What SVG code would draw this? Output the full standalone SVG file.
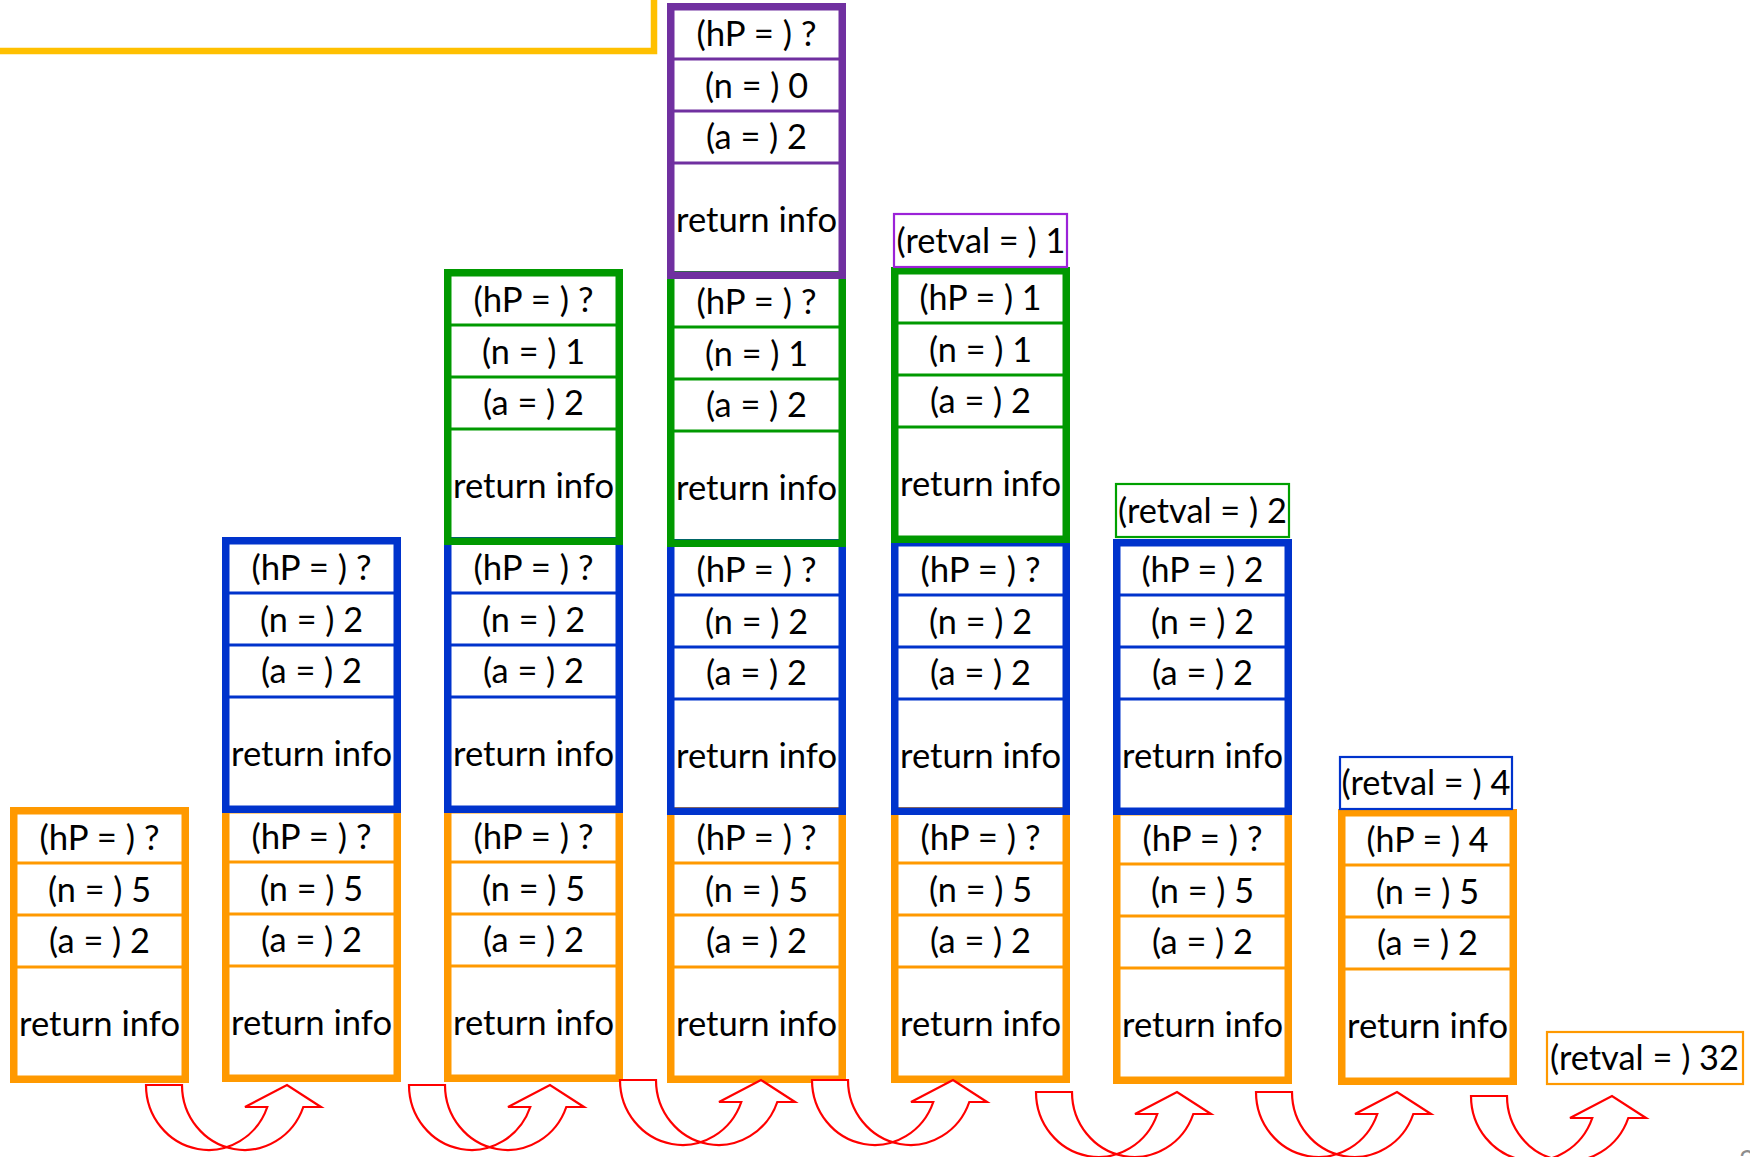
<svg xmlns="http://www.w3.org/2000/svg" width="1750" height="1157" viewBox="0 0 1750 1157">
  <style>
    .fr { fill: none; stroke-width: 7.5; }
    .sep { stroke-width: 3; }
    .or { stroke: #FF9900; }
    .bl { stroke: #0033CC; }
    .gr { stroke: #009900; }
    .pu { stroke: #7030A0; }
    .t { font-family: Lato, "Open Sans", "Liberation Sans", sans-serif; font-size: 34px; fill: #000; text-anchor: middle; }
    .rv { text-anchor: start; }
    .rvb { fill: #fff; stroke-width: 2.2; }
    .arr { fill: #fff; stroke: #FF0000; stroke-width: 2.2; stroke-linejoin: miter; }
  </style>

  <!-- enclosing yellow frame, mostly off the top-left edge -->
  <g id="outer-frame">
    <path d="M-10,51 H654 V-10" fill="none" stroke="#FFC000" stroke-width="6.5"/>
  </g>

  <!-- ===== orange frames: pow(a=2, n=5) ===== -->
  <g id="c1-orange" transform="translate(10,807)">
    <line class="sep or" x1="4" x2="175" y1="56" y2="56"/><line class="sep or" x1="4" x2="175" y1="108" y2="108"/><line class="sep or" x1="4" x2="175" y1="160" y2="160"/>
    <rect class="fr or" x="3.75" y="3.75" width="171.5" height="268.5"/>
    <text class="t" x="89.5" y="43" textLength="120" lengthAdjust="spacingAndGlyphs">(hP = ) ?</text>
    <text class="t" x="89.5" y="95" textLength="103" lengthAdjust="spacingAndGlyphs">(n = ) 5</text>
    <text class="t" x="89.5" y="146" textLength="101" lengthAdjust="spacingAndGlyphs">(a = ) 2</text>
    <text class="t" x="89.5" y="229" textLength="161" lengthAdjust="spacingAndGlyphs">return info</text>
  </g>
  <g id="c2-orange" transform="translate(222,806)">
    <line class="sep or" x1="4" x2="175" y1="56" y2="56"/><line class="sep or" x1="4" x2="175" y1="108" y2="108"/><line class="sep or" x1="4" x2="175" y1="160" y2="160"/>
    <rect class="fr or" x="3.75" y="3.75" width="171.5" height="268.5"/>
    <text class="t" x="89.5" y="43" textLength="120" lengthAdjust="spacingAndGlyphs">(hP = ) ?</text>
    <text class="t" x="89.5" y="95" textLength="103" lengthAdjust="spacingAndGlyphs">(n = ) 5</text>
    <text class="t" x="89.5" y="146" textLength="101" lengthAdjust="spacingAndGlyphs">(a = ) 2</text>
    <text class="t" x="89.5" y="229" textLength="161" lengthAdjust="spacingAndGlyphs">return info</text>
  </g>
  <g id="c3-orange" transform="translate(444,806)">
    <line class="sep or" x1="4" x2="175" y1="56" y2="56"/><line class="sep or" x1="4" x2="175" y1="108" y2="108"/><line class="sep or" x1="4" x2="175" y1="160" y2="160"/>
    <rect class="fr or" x="3.75" y="3.75" width="171.5" height="268.5"/>
    <text class="t" x="89.5" y="43" textLength="120" lengthAdjust="spacingAndGlyphs">(hP = ) ?</text>
    <text class="t" x="89.5" y="95" textLength="103" lengthAdjust="spacingAndGlyphs">(n = ) 5</text>
    <text class="t" x="89.5" y="146" textLength="101" lengthAdjust="spacingAndGlyphs">(a = ) 2</text>
    <text class="t" x="89.5" y="229" textLength="161" lengthAdjust="spacingAndGlyphs">return info</text>
  </g>
  <g id="c4-orange" transform="translate(667,807)">
    <line class="sep or" x1="4" x2="175" y1="56" y2="56"/><line class="sep or" x1="4" x2="175" y1="108" y2="108"/><line class="sep or" x1="4" x2="175" y1="160" y2="160"/>
    <rect class="fr or" x="3.75" y="3.75" width="171.5" height="268.5"/>
    <text class="t" x="89.5" y="43" textLength="120" lengthAdjust="spacingAndGlyphs">(hP = ) ?</text>
    <text class="t" x="89.5" y="95" textLength="103" lengthAdjust="spacingAndGlyphs">(n = ) 5</text>
    <text class="t" x="89.5" y="146" textLength="101" lengthAdjust="spacingAndGlyphs">(a = ) 2</text>
    <text class="t" x="89.5" y="229" textLength="161" lengthAdjust="spacingAndGlyphs">return info</text>
  </g>
  <g id="c5-orange" transform="translate(891,807)">
    <line class="sep or" x1="4" x2="175" y1="56" y2="56"/><line class="sep or" x1="4" x2="175" y1="108" y2="108"/><line class="sep or" x1="4" x2="175" y1="160" y2="160"/>
    <rect class="fr or" x="3.75" y="3.75" width="171.5" height="268.5"/>
    <text class="t" x="89.5" y="43" textLength="120" lengthAdjust="spacingAndGlyphs">(hP = ) ?</text>
    <text class="t" x="89.5" y="95" textLength="103" lengthAdjust="spacingAndGlyphs">(n = ) 5</text>
    <text class="t" x="89.5" y="146" textLength="101" lengthAdjust="spacingAndGlyphs">(a = ) 2</text>
    <text class="t" x="89.5" y="229" textLength="161" lengthAdjust="spacingAndGlyphs">return info</text>
  </g>
  <g id="c6-orange" transform="translate(1113,808)">
    <line class="sep or" x1="4" x2="175" y1="56" y2="56"/><line class="sep or" x1="4" x2="175" y1="108" y2="108"/><line class="sep or" x1="4" x2="175" y1="160" y2="160"/>
    <rect class="fr or" x="3.75" y="3.75" width="171.5" height="268.5"/>
    <text class="t" x="89.5" y="43" textLength="120" lengthAdjust="spacingAndGlyphs">(hP = ) ?</text>
    <text class="t" x="89.5" y="95" textLength="103" lengthAdjust="spacingAndGlyphs">(n = ) 5</text>
    <text class="t" x="89.5" y="146" textLength="101" lengthAdjust="spacingAndGlyphs">(a = ) 2</text>
    <text class="t" x="89.5" y="229" textLength="161" lengthAdjust="spacingAndGlyphs">return info</text>
  </g>
  <g id="c7-orange" transform="translate(1338,809)">
    <line class="sep or" x1="4" x2="175" y1="56" y2="56"/><line class="sep or" x1="4" x2="175" y1="108" y2="108"/><line class="sep or" x1="4" x2="175" y1="160" y2="160"/>
    <rect class="fr or" x="3.75" y="3.75" width="171.5" height="268.5"/>
    <text class="t" x="89.5" y="43" textLength="122" lengthAdjust="spacingAndGlyphs">(hP = ) 4</text>
    <text class="t" x="89.5" y="95" textLength="103" lengthAdjust="spacingAndGlyphs">(n = ) 5</text>
    <text class="t" x="89.5" y="146" textLength="101" lengthAdjust="spacingAndGlyphs">(a = ) 2</text>
    <text class="t" x="89.5" y="229" textLength="161" lengthAdjust="spacingAndGlyphs">return info</text>
  </g>

  <!-- ===== blue frames: n = 2 ===== -->
  <g id="c2-blue" transform="translate(222,537)">
    <line class="sep bl" x1="4" x2="175" y1="56" y2="56"/><line class="sep bl" x1="4" x2="175" y1="108" y2="108"/><line class="sep bl" x1="4" x2="175" y1="160" y2="160"/>
    <rect class="fr bl" x="3.75" y="3.75" width="171.5" height="268.5"/>
    <text class="t" x="89.5" y="43" textLength="120" lengthAdjust="spacingAndGlyphs">(hP = ) ?</text>
    <text class="t" x="89.5" y="95" textLength="103" lengthAdjust="spacingAndGlyphs">(n = ) 2</text>
    <text class="t" x="89.5" y="146" textLength="101" lengthAdjust="spacingAndGlyphs">(a = ) 2</text>
    <text class="t" x="89.5" y="229" textLength="161" lengthAdjust="spacingAndGlyphs">return info</text>
  </g>
  <g id="c3-blue" transform="translate(444,537)">
    <line class="sep bl" x1="4" x2="175" y1="56" y2="56"/><line class="sep bl" x1="4" x2="175" y1="108" y2="108"/><line class="sep bl" x1="4" x2="175" y1="160" y2="160"/>
    <rect class="fr bl" x="3.75" y="3.75" width="171.5" height="268.5"/>
    <text class="t" x="89.5" y="43" textLength="120" lengthAdjust="spacingAndGlyphs">(hP = ) ?</text>
    <text class="t" x="89.5" y="95" textLength="103" lengthAdjust="spacingAndGlyphs">(n = ) 2</text>
    <text class="t" x="89.5" y="146" textLength="101" lengthAdjust="spacingAndGlyphs">(a = ) 2</text>
    <text class="t" x="89.5" y="229" textLength="161" lengthAdjust="spacingAndGlyphs">return info</text>
  </g>
  <g id="c4-blue" transform="translate(667,539)">
    <line class="sep bl" x1="4" x2="175" y1="56" y2="56"/><line class="sep bl" x1="4" x2="175" y1="108" y2="108"/><line class="sep bl" x1="4" x2="175" y1="160" y2="160"/>
    <rect class="fr bl" x="3.75" y="3.75" width="171.5" height="268.5"/>
    <text class="t" x="89.5" y="43" textLength="120" lengthAdjust="spacingAndGlyphs">(hP = ) ?</text>
    <text class="t" x="89.5" y="95" textLength="103" lengthAdjust="spacingAndGlyphs">(n = ) 2</text>
    <text class="t" x="89.5" y="146" textLength="101" lengthAdjust="spacingAndGlyphs">(a = ) 2</text>
    <text class="t" x="89.5" y="229" textLength="161" lengthAdjust="spacingAndGlyphs">return info</text>
  </g>
  <g id="c5-blue" transform="translate(891,539)">
    <line class="sep bl" x1="4" x2="175" y1="56" y2="56"/><line class="sep bl" x1="4" x2="175" y1="108" y2="108"/><line class="sep bl" x1="4" x2="175" y1="160" y2="160"/>
    <rect class="fr bl" x="3.75" y="3.75" width="171.5" height="268.5"/>
    <text class="t" x="89.5" y="43" textLength="120" lengthAdjust="spacingAndGlyphs">(hP = ) ?</text>
    <text class="t" x="89.5" y="95" textLength="103" lengthAdjust="spacingAndGlyphs">(n = ) 2</text>
    <text class="t" x="89.5" y="146" textLength="101" lengthAdjust="spacingAndGlyphs">(a = ) 2</text>
    <text class="t" x="89.5" y="229" textLength="161" lengthAdjust="spacingAndGlyphs">return info</text>
  </g>
  <g id="c6-blue" transform="translate(1113,539)">
    <line class="sep bl" x1="4" x2="175" y1="56" y2="56"/><line class="sep bl" x1="4" x2="175" y1="108" y2="108"/><line class="sep bl" x1="4" x2="175" y1="160" y2="160"/>
    <rect class="fr bl" x="3.75" y="3.75" width="171.5" height="268.5"/>
    <text class="t" x="89.5" y="43" textLength="122" lengthAdjust="spacingAndGlyphs">(hP = ) 2</text>
    <text class="t" x="89.5" y="95" textLength="103" lengthAdjust="spacingAndGlyphs">(n = ) 2</text>
    <text class="t" x="89.5" y="146" textLength="101" lengthAdjust="spacingAndGlyphs">(a = ) 2</text>
    <text class="t" x="89.5" y="229" textLength="161" lengthAdjust="spacingAndGlyphs">return info</text>
  </g>

  <!-- ===== green frames: n = 1 ===== -->
  <g id="c3-green" transform="translate(444,269)">
    <line class="sep gr" x1="4" x2="175" y1="56" y2="56"/><line class="sep gr" x1="4" x2="175" y1="108" y2="108"/><line class="sep gr" x1="4" x2="175" y1="160" y2="160"/>
    <rect class="fr gr" x="3.75" y="3.75" width="171.5" height="268.5"/>
    <text class="t" x="89.5" y="43" textLength="120" lengthAdjust="spacingAndGlyphs">(hP = ) ?</text>
    <text class="t" x="89.5" y="95" textLength="103" lengthAdjust="spacingAndGlyphs">(n = ) 1</text>
    <text class="t" x="89.5" y="146" textLength="101" lengthAdjust="spacingAndGlyphs">(a = ) 2</text>
    <text class="t" x="89.5" y="229" textLength="161" lengthAdjust="spacingAndGlyphs">return info</text>
  </g>
  <g id="c4-green" transform="translate(667,271)">
    <line class="sep gr" x1="4" x2="175" y1="56" y2="56"/><line class="sep gr" x1="4" x2="175" y1="108" y2="108"/><line class="sep gr" x1="4" x2="175" y1="160" y2="160"/>
    <rect class="fr gr" x="3.75" y="3.75" width="171.5" height="268.5"/>
    <text class="t" x="89.5" y="43" textLength="120" lengthAdjust="spacingAndGlyphs">(hP = ) ?</text>
    <text class="t" x="89.5" y="95" textLength="103" lengthAdjust="spacingAndGlyphs">(n = ) 1</text>
    <text class="t" x="89.5" y="146" textLength="101" lengthAdjust="spacingAndGlyphs">(a = ) 2</text>
    <text class="t" x="89.5" y="229" textLength="161" lengthAdjust="spacingAndGlyphs">return info</text>
  </g>
  <g id="c5-green" transform="translate(891,267)">
    <line class="sep gr" x1="4" x2="175" y1="56" y2="56"/><line class="sep gr" x1="4" x2="175" y1="108" y2="108"/><line class="sep gr" x1="4" x2="175" y1="160" y2="160"/>
    <rect class="fr gr" x="3.75" y="3.75" width="171.5" height="268.5"/>
    <text class="t" x="89.5" y="43" textLength="122" lengthAdjust="spacingAndGlyphs">(hP = ) 1</text>
    <text class="t" x="89.5" y="95" textLength="103" lengthAdjust="spacingAndGlyphs">(n = ) 1</text>
    <text class="t" x="89.5" y="146" textLength="101" lengthAdjust="spacingAndGlyphs">(a = ) 2</text>
    <text class="t" x="89.5" y="229" textLength="161" lengthAdjust="spacingAndGlyphs">return info</text>
  </g>

  <!-- ===== purple frame: n = 0 ===== -->
  <g id="c4-purple" transform="translate(667,3)">
    <line class="sep pu" x1="4" x2="175" y1="56" y2="56"/><line class="sep pu" x1="4" x2="175" y1="108" y2="108"/><line class="sep pu" x1="4" x2="175" y1="160" y2="160"/>
    <rect class="fr pu" x="3.75" y="3.75" width="171.5" height="268.5"/>
    <text class="t" x="89.5" y="43" textLength="120" lengthAdjust="spacingAndGlyphs">(hP = ) ?</text>
    <text class="t" x="89.5" y="95" textLength="103" lengthAdjust="spacingAndGlyphs">(n = ) 0</text>
    <text class="t" x="89.5" y="146" textLength="101" lengthAdjust="spacingAndGlyphs">(a = ) 2</text>
    <text class="t" x="89.5" y="229" textLength="161" lengthAdjust="spacingAndGlyphs">return info</text>
  </g>

  <!-- ===== return values ===== -->
  <g id="retval-1">
    <rect class="rvb" x="894" y="214" width="173" height="53" stroke="#9B22D8"/>
    <text class="t rv" x="896.5" y="253" textLength="169" lengthAdjust="spacingAndGlyphs">(retval = ) 1</text>
  </g>
  <g id="retval-2">
    <rect class="rvb" x="1116" y="484" width="173" height="53" stroke="#00A000"/>
    <text class="t rv" x="1118" y="523" textLength="169" lengthAdjust="spacingAndGlyphs">(retval = ) 2</text>
  </g>
  <g id="retval-4">
    <rect class="rvb" x="1340" y="757" width="172" height="52" stroke="#0033CC"/>
    <text class="t rv" x="1341.5" y="795" textLength="169" lengthAdjust="spacingAndGlyphs">(retval = ) 4</text>
  </g>
  <g id="retval-32">
    <rect class="rvb" x="1547" y="1032" width="196" height="52" stroke="#FF9900"/>
    <text class="t rv" x="1550" y="1070" textLength="189" lengthAdjust="spacingAndGlyphs">(retval = ) 32</text>
  </g>

  <!-- ===== step arrows between frames ===== -->
  <g id="connectors">
    <path class="arr" d="M146,1085 L182,1085 A62.5,65 0 0 0 303.3,1107 L321,1107 L287,1085 L245,1107 L267.3,1107 A62.5,65 0 0 1 146,1085 Z"/>
    <path class="arr" d="M409,1085 L445,1085 A62.5,65 0 0 0 566.3,1107 L584,1107 L550,1085 L508,1107 L530.3,1107 A62.5,65 0 0 1 409,1085 Z"/>
    <path class="arr" d="M620,1080 L656,1080 A62.5,65 0 0 0 777.3,1102 L795,1102 L761,1080 L719,1102 L741.3,1102 A62.5,65 0 0 1 620,1080 Z"/>
    <path class="arr" d="M812,1080 L848,1080 A62.5,65 0 0 0 969.3,1102 L987,1102 L953,1080 L911,1102 L933.3,1102 A62.5,65 0 0 1 812,1080 Z"/>
    <path class="arr" d="M1036,1092 L1072,1092 A62.5,65 0 0 0 1193.3,1114 L1211,1114 L1177,1092 L1135,1114 L1157.3,1114 A62.5,65 0 0 1 1036,1092 Z"/>
    <path class="arr" d="M1256,1092 L1292,1092 A62.5,65 0 0 0 1413.3,1114 L1431,1114 L1397,1092 L1355,1114 L1377.3,1114 A62.5,65 0 0 1 1256,1092 Z"/>
    <path class="arr" d="M1471,1096 L1507,1096 A62.5,65 0 0 0 1628.3,1118 L1646,1118 L1612,1096 L1570,1118 L1592.3,1118 A62.5,65 0 0 1 1471,1096 Z"/>
  </g>

  <!-- slide number, cut by the lower edge -->
  <text x="1739" y="1171" font-family="Lato, 'Open Sans', sans-serif" font-size="28" fill="#8C8C8C">2</text>
</svg>
